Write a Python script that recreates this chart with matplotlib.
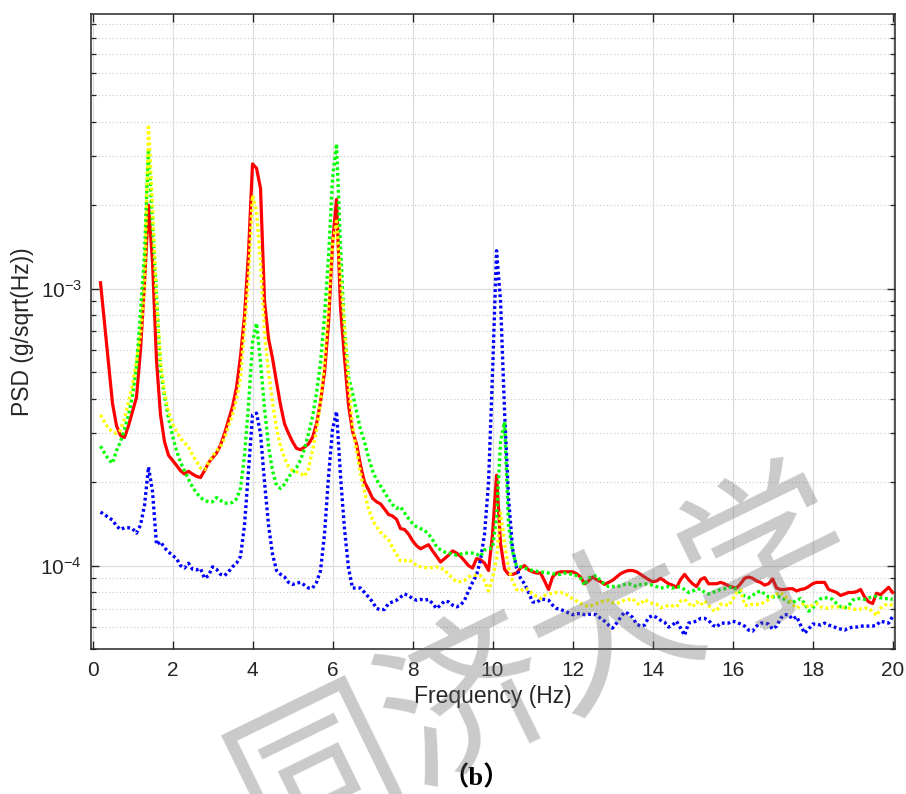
import numpy as np
import matplotlib
matplotlib.use("Agg")
import matplotlib.pyplot as plt
from matplotlib.ticker import LogLocator, NullFormatter, FixedLocator

plt.rcParams["font.family"] = ["Liberation Sans", "DejaVu Sans"]
plt.rcParams["mathtext.fontset"] = "custom"
plt.rcParams["mathtext.rm"] = "Liberation Sans"
plt.rcParams["mathtext.it"] = "Liberation Sans:italic"
plt.rcParams["mathtext.bf"] = "Liberation Sans:bold"
plt.rcParams["mathtext.default"] = "regular"

# frequency bins (Hz)
freq = np.round(np.arange(0.2, 20.05, 0.1), 1)

# PSD estimates, g/sqrt(Hz), one value per frequency bin
psd_red = [
    1.05e-3, 7.5e-4, 5.4e-4, 3.85e-4, 3.2e-4, 2.95e-4, 2.9e-4, 3.2e-4, 3.6e-4, 4.05e-4,
    6.0e-4, 1.05e-3, 2.0e-3, 1.25e-3, 5.5e-4, 3.5e-4, 2.8e-4, 2.5e-4, 2.4e-4, 2.3e-4,
    2.2e-4, 2.14e-4, 2.19e-4, 2.14e-4, 2.1e-4, 2.08e-4, 2.2e-4, 2.35e-4, 2.45e-4, 2.55e-4,
    2.72e-4, 3.0e-4, 3.35e-4, 3.75e-4, 4.4e-4, 5.7e-4, 8.0e-4, 1.35e-3, 2.82e-3, 2.72e-3,
    2.3e-3, 9.0e-4, 6.6e-4, 5.6e-4, 4.6e-4, 3.8e-4, 3.25e-4, 3.0e-4, 2.8e-4, 2.65e-4,
    2.62e-4, 2.68e-4, 2.75e-4, 2.9e-4, 3.25e-4, 3.9e-4, 5.0e-4, 7.5e-4, 1.45e-3, 2.1e-3,
    8.5e-4, 5.6e-4, 3.8e-4, 3.05e-4, 2.75e-4, 2.3e-4, 2.0e-4, 1.88e-4, 1.75e-4, 1.7e-4,
    1.67e-4, 1.6e-4, 1.53e-4, 1.51e-4, 1.47e-4, 1.36e-4, 1.35e-4, 1.3e-4, 1.23e-4, 1.18e-4,
    1.15e-4, 1.17e-4, 1.19e-4, 1.13e-4, 1.08e-4, 1.03e-4, 1.06e-4, 1.09e-4, 1.13e-4, 1.11e-4,
    1.08e-4, 1.04e-4, 1.0e-4, 9.8e-5, 1.06e-4, 1.05e-4, 1.02e-4, 9.6e-5, 1.3e-4, 2.12e-4,
    1.2e-4, 9.7e-5, 9.3e-5, 9.3e-5, 9.4e-5, 9.8e-5, 1.0e-4, 9.65e-5, 9.5e-5, 9.4e-5,
    9.4e-5, 8.8e-5, 8.2e-5, 9.1e-5, 9.4e-5, 9.5e-5, 9.5e-5, 9.5e-5, 9.5e-5, 9.35e-5,
    9.1e-5, 8.6e-5, 8.8e-5, 9.1e-5, 8.9e-5, 8.75e-5, 8.55e-5, 8.7e-5, 8.85e-5, 9.1e-5,
    9.35e-5, 9.5e-5, 9.6e-5, 9.6e-5, 9.5e-5, 9.3e-5, 9.1e-5, 8.9e-5, 8.75e-5, 8.8e-5,
    9.0e-5, 8.8e-5, 8.6e-5, 8.5e-5, 8.35e-5, 8.9e-5, 9.3e-5, 8.9e-5, 8.6e-5, 8.4e-5,
    8.9e-5, 9.05e-5, 8.6e-5, 8.6e-5, 8.6e-5, 8.7e-5, 8.6e-5, 8.45e-5, 8.35e-5, 8.3e-5,
    8.6e-5, 9.0e-5, 9.1e-5, 9.0e-5, 8.8e-5, 8.7e-5, 8.5e-5, 8.6e-5, 8.95e-5, 8.3e-5,
    8.2e-5, 8.2e-5, 8.25e-5, 8.25e-5, 8.1e-5, 8.2e-5, 8.25e-5, 8.4e-5, 8.6e-5, 8.7e-5,
    8.7e-5, 8.7e-5, 8.2e-5, 8.1e-5, 8.0e-5, 7.8e-5, 7.9e-5, 8.0e-5, 8.0e-5, 8.05e-5,
    8.2e-5, 7.7e-5, 7.4e-5, 7.3e-5, 7.95e-5, 7.85e-5, 8.1e-5, 8.35e-5, 8.0e-5,
]

psd_green = [
    2.7e-4, 2.55e-4, 2.42e-4, 2.34e-4, 2.6e-4, 2.8e-4, 3.1e-4, 3.5e-4, 4.1e-4, 5.2e-4,
    8.2e-4, 1.35e-3, 3.2e-3, 1.7e-3, 9.5e-4, 5.1e-4, 4.1e-4, 3.4e-4, 2.95e-4, 2.6e-4,
    2.36e-4, 2.2e-4, 2.05e-4, 1.92e-4, 1.83e-4, 1.76e-4, 1.72e-4, 1.7e-4, 1.7e-4, 1.76e-4,
    1.72e-4, 1.68e-4, 1.68e-4, 1.69e-4, 1.74e-4, 1.9e-4, 2.5e-4, 3.8e-4, 6.4e-4, 7.5e-4,
    5.4e-4, 3.7e-4, 2.7e-4, 2.2e-4, 1.95e-4, 1.9e-4, 1.97e-4, 2.09e-4, 2.17e-4, 2.26e-4,
    2.4e-4, 2.65e-4, 3.0e-4, 3.45e-4, 4.2e-4, 5.4e-4, 8.0e-4, 1.3e-3, 2.5e-3, 3.33e-3,
    1.4e-3, 7.0e-4, 4.8e-4, 4.2e-4, 3.6e-4, 3.1e-4, 2.8e-4, 2.45e-4, 2.2e-4, 2.04e-4,
    1.94e-4, 1.84e-4, 1.74e-4, 1.66e-4, 1.61e-4, 1.63e-4, 1.55e-4, 1.48e-4, 1.42e-4, 1.38e-4,
    1.36e-4, 1.34e-4, 1.30e-4, 1.24e-4, 1.17e-4, 1.14e-4, 1.12e-4, 1.11e-4, 1.10e-4, 1.09e-4,
    1.1e-4, 1.11e-4, 1.11e-4, 1.11e-4, 1.1e-4, 1.08e-4, 1.14e-4, 1.15e-4, 1.16e-4, 1.5e-4,
    2.8e-4, 3.3e-4, 1.4e-4, 1.12e-4, 1.0e-4, 9.9e-5, 9.8e-5, 9.7e-5, 9.6e-5, 9.55e-5,
    9.5e-5, 9.45e-5, 9.4e-5, 9.35e-5, 9.3e-5, 9.3e-5, 9.4e-5, 9.35e-5, 9.3e-5, 9.2e-5,
    9.0e-5, 8.5e-5, 9.0e-5, 9.15e-5, 9.2e-5, 8.8e-5, 8.6e-5, 8.4e-5, 8.4e-5, 8.4e-5,
    8.45e-5, 8.55e-5, 8.6e-5, 8.5e-5, 8.4e-5, 8.55e-5, 8.6e-5, 8.55e-5, 8.5e-5, 8.4e-5,
    8.3e-5, 8.35e-5, 8.4e-5, 8.3e-5, 8.4e-5, 8.35e-5, 8.2e-5, 8.0e-5, 8.1e-5, 8.2e-5,
    8.25e-5, 8.0e-5, 7.9e-5, 8.0e-5, 8.1e-5, 8.2e-5, 8.25e-5, 8.3e-5, 8.4e-5, 8.2e-5,
    8.0e-5, 7.75e-5, 7.65e-5, 7.8e-5, 8.0e-5, 8.1e-5, 7.9e-5, 7.7e-5, 7.7e-5, 7.75e-5,
    7.7e-5, 7.55e-5, 7.4e-5, 7.35e-5, 7.5e-5, 7.6e-5, 7.3e-5, 6.85e-5, 7.0e-5, 7.4e-5,
    7.6e-5, 7.65e-5, 7.65e-5, 7.55e-5, 7.3e-5, 7.1e-5, 7.05e-5, 7.15e-5, 7.5e-5, 7.6e-5,
    7.6e-5, 7.55e-5, 7.65e-5, 7.7e-5, 7.75e-5, 7.65e-5, 7.6e-5, 7.6e-5, 7.55e-5,
]

psd_yellow = [
    3.5e-4, 3.3e-4, 3.12e-4, 3.05e-4, 3.0e-4, 3.08e-4, 3.4e-4, 3.9e-4, 4.5e-4, 5.5e-4,
    6.8e-4, 1.0e-3, 3.83e-3, 2.0e-3, 9.0e-4, 5.5e-4, 4.2e-4, 3.6e-4, 3.25e-4, 3.05e-4,
    2.88e-4, 2.78e-4, 2.68e-4, 2.5e-4, 2.38e-4, 2.25e-4, 2.22e-4, 2.35e-4, 2.48e-4, 2.6e-4,
    2.68e-4, 2.9e-4, 3.2e-4, 3.5e-4, 4.0e-4, 4.8e-4, 7.3e-4, 1.1e-3, 2.17e-3, 1.9e-3,
    1.25e-3, 7.0e-4, 5.0e-4, 3.9e-4, 3.13e-4, 2.7e-4, 2.45e-4, 2.28e-4, 2.2e-4, 2.18e-4,
    2.15e-4, 2.1e-4, 2.24e-4, 2.6e-4, 3.1e-4, 3.9e-4, 5.4e-4, 8.5e-4, 1.45e-3, 1.75e-3,
    1.08e-3, 7.4e-4, 4.5e-4, 3.2e-4, 2.6e-4, 2.15e-4, 1.85e-4, 1.6e-4, 1.46e-4, 1.38e-4,
    1.32e-4, 1.28e-4, 1.24e-4, 1.16e-4, 1.10e-4, 1.04e-4, 1.04e-4, 1.05e-4, 1.03e-4, 1.0e-4,
    9.9e-5, 9.85e-5, 9.8e-5, 9.85e-5, 9.9e-5, 9.8e-5, 9.65e-5, 9.3e-5, 9.0e-5, 8.75e-5,
    8.75e-5, 8.85e-5, 9.1e-5, 9.2e-5, 9.25e-5, 9.2e-5, 8.8e-5, 8.1e-5, 9.0e-5, 1.06e-4,
    1.55e-4, 1.2e-4, 9.8e-5, 8.8e-5, 8.2e-5, 8.1e-5, 8.3e-5, 8.2e-5, 7.9e-5, 7.75e-5,
    7.6e-5, 7.8e-5, 7.9e-5, 7.95e-5, 8.0e-5, 8.0e-5, 7.95e-5, 7.75e-5, 7.6e-5, 7.45e-5,
    7.3e-5, 7.2e-5, 7.1e-5, 7.2e-5, 7.3e-5, 7.4e-5, 7.45e-5, 7.5e-5, 7.35e-5, 7.3e-5,
    7.4e-5, 7.5e-5, 7.55e-5, 7.6e-5, 7.3e-5, 7.25e-5, 7.55e-5, 7.4e-5, 7.3e-5, 7.25e-5,
    7.05e-5, 7.1e-5, 7.2e-5, 7.15e-5, 7.1e-5, 7.45e-5, 7.55e-5, 7.3e-5, 7.1e-5, 7.4e-5,
    7.2e-5, 7.45e-5, 7.2e-5, 6.92e-5, 6.86e-5, 7.25e-5, 7.25e-5, 7.17e-5, 7.55e-5, 7.99e-5,
    8.17e-5, 7.2e-5, 7.17e-5, 7.25e-5, 7.25e-5, 7.25e-5, 7.4e-5, 7.55e-5, 7.75e-5, 7.9e-5,
    8.0e-5, 7.75e-5, 7.55e-5, 7.25e-5, 7.02e-5, 7.17e-5, 7.3e-5, 7.05e-5, 7.2e-5, 7.3e-5,
    7.1e-5, 7.02e-5, 7.02e-5, 7.1e-5, 7.1e-5, 7.1e-5, 7.05e-5, 7.02e-5, 6.96e-5, 6.94e-5,
    6.97e-5, 7.02e-5, 7.02e-5, 6.82e-5, 6.6e-5, 7.02e-5, 7.2e-5, 7.25e-5, 7.2e-5,
]

psd_blue = [
    1.56e-4, 1.53e-4, 1.49e-4, 1.46e-4, 1.39e-4, 1.35e-4, 1.37e-4, 1.37e-4, 1.36e-4, 1.31e-4,
    1.4e-4, 1.65e-4, 2.27e-4, 1.85e-4, 1.19e-4, 1.22e-4, 1.16e-4, 1.12e-4, 1.09e-4, 1.06e-4,
    1.0e-4, 9.8e-5, 1.02e-4, 9.7e-5, 9.65e-5, 9.75e-5, 9.0e-5, 9.2e-5, 9.9e-5, 9.7e-5,
    9.3e-5, 9.2e-5, 9.5e-5, 9.9e-5, 1.02e-4, 1.08e-4, 1.4e-4, 2.2e-4, 3.5e-4, 3.55e-4,
    3.0e-4, 2.0e-4, 1.4e-4, 1.1e-4, 9.6e-5, 9.3e-5, 9.1e-5, 8.7e-5, 8.55e-5, 8.65e-5,
    8.7e-5, 8.5e-5, 8.3e-5, 8.3e-5, 8.7e-5, 9.6e-5, 1.3e-4, 2.1e-4, 3.1e-4, 3.6e-4,
    2.1e-4, 1.35e-4, 9.8e-5, 8.3e-5, 8.3e-5, 8.3e-5, 8.0e-5, 7.7e-5, 7.4e-5, 7.0e-5,
    6.93e-5, 6.95e-5, 7.3e-5, 7.4e-5, 7.5e-5, 7.7e-5, 7.9e-5, 7.8e-5, 7.6e-5, 7.5e-5,
    7.55e-5, 7.5e-5, 7.55e-5, 7.3e-5, 7.0e-5, 7.2e-5, 7.45e-5, 7.4e-5, 7.2e-5, 7.1e-5,
    7.2e-5, 7.5e-5, 8.1e-5, 8.7e-5, 9.25e-5, 1.05e-4, 1.3e-4, 2.0e-4, 5.0e-4, 1.37e-3,
    9.0e-4, 3.6e-4, 1.75e-4, 1.15e-4, 9.8e-5, 9.0e-5, 8.6e-5, 8.0e-5, 7.4e-5, 7.35e-5,
    7.55e-5, 7.55e-5, 7.5e-5, 7.2e-5, 7.0e-5, 6.95e-5, 6.85e-5, 6.75e-5, 6.65e-5, 6.7e-5,
    6.72e-5, 6.65e-5, 6.67e-5, 6.67e-5, 6.65e-5, 6.45e-5, 6.3e-5, 6.1e-5, 5.95e-5, 6.2e-5,
    6.5e-5, 6.8e-5, 6.7e-5, 6.5e-5, 6.15e-5, 6.05e-5, 6.1e-5, 6.5e-5, 6.6e-5, 6.5e-5,
    6.35e-5, 6.25e-5, 6.0e-5, 6.1e-5, 6.3e-5, 5.95e-5, 5.6e-5, 6.2e-5, 6.25e-5, 6.3e-5,
    6.45e-5, 6.45e-5, 6.35e-5, 6.1e-5, 6.0e-5, 6.2e-5, 6.2e-5, 6.2e-5, 6.3e-5, 6.25e-5,
    6.15e-5, 6.05e-5, 5.85e-5, 5.8e-5, 6.05e-5, 6.2e-5, 6.2e-5, 6.15e-5, 5.9e-5, 6.05e-5,
    6.45e-5, 6.65e-5, 6.65e-5, 6.4e-5, 6.55e-5, 6.1e-5, 5.7e-5, 5.9e-5, 6.15e-5, 6.15e-5,
    6.1e-5, 6.2e-5, 6.1e-5, 6.05e-5, 5.95e-5, 5.9e-5, 5.85e-5, 5.95e-5, 6.0e-5, 6.0e-5,
    6.05e-5, 6.05e-5, 6.05e-5, 6.05e-5, 6.1e-5, 6.3e-5, 6.25e-5, 6.2e-5, 6.55e-5,
]

x_ticks = [0, 2, 4, 6, 8, 10, 12, 14, 16, 18, 20]

W, H = 906, 794
fig = plt.figure(figsize=(W / 100, H / 100), dpi=100)
ax = fig.add_axes([90.5 / W, 1 - 649 / H, (895 - 90.5) / W, (649 - 14) / H])

dot = (0, (0.85, 0.85))
ax.plot(freq, psd_red, color="#ff0000", lw=2.3, ls="-", zorder=3)
ax.plot(freq, psd_blue, color="#0000ff", lw=2.4, ls=dot, zorder=4)
ax.plot(freq, psd_green, color="#00ff00", lw=2.4, ls=dot, zorder=5)
ax.plot(freq, psd_yellow, color="#ffff00", lw=2.4, ls=dot, zorder=6)

ax.set_yscale("log")
ax.set_xlim(-0.05, 20.06)
ax.set_ylim(5e-5, 9.8e-3)
ax.xaxis.set_major_locator(FixedLocator(x_ticks))
ax.yaxis.set_major_locator(LogLocator(base=10, numticks=10))
ax.yaxis.set_minor_locator(LogLocator(base=10, subs=np.arange(2, 10), numticks=20))
ax.yaxis.set_minor_formatter(NullFormatter())

ax.set_axisbelow(True)
ax.grid(which="major", color="#dedede", lw=0.9, ls="-")
ax.grid(which="minor", axis="y", color="#c8c8c8", lw=0.8, ls=(0, (1, 2.2)))

for s in ax.spines.values():
    s.set_color("#262626")
    s.set_linewidth(1.1)
ax.tick_params(which="both", direction="in", top=True, right=True, color="#262626",
               labelcolor="#262626")
ax.tick_params(which="major", length=6, width=1.0, labelsize=15)
ax.tick_params(axis="x", which="major", pad=9)
ax.tick_params(axis="y", which="major", pad=6)
ax.tick_params(which="minor", length=3.5, width=0.9)

ax.set_xlabel("Frequency (Hz)", fontsize=16.5, color="#262626", labelpad=3)
ax.set_ylabel("PSD (g/sqrt(Hz))", fontsize=16.5, color="#262626", labelpad=5)

fig.text(476 / W, 1 - 778 / H, "（b）", ha="center", va="center", fontsize=19,
         family=["Liberation Serif", "Noto Sans CJK SC"], weight="bold", color="black")

fig.text(542 / W, 1 - 664 / H, "同济大学", ha="center", va="center", fontsize=120,
         rotation=26, rotation_mode="anchor", family=["Noto Sans CJK SC"],
         color="#666666", alpha=0.35, zorder=10)

fig.savefig("out.png", dpi=100)
